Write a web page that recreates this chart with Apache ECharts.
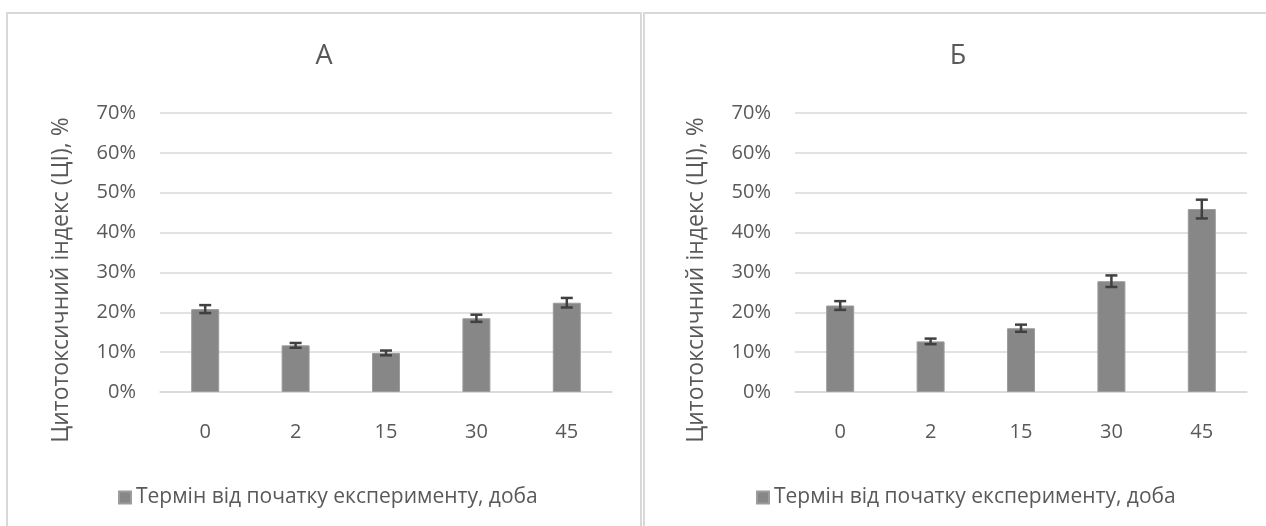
<!DOCTYPE html>
<html>
<head>
<meta charset="utf-8">
<script src="https://cdn.jsdelivr.net/npm/echarts@6/dist/echarts.min.js"></script>
<style>
  html, body { margin: 0; padding: 0; background: #ffffff; }
  #chart { width: 1266px; height: 526px; }
</style>
</head>
<body>
<div id="chart"></div>
<script>
// Days since the start of the experiment
var categories = ['0', '2', '15', '30', '45'];
var seriesName = 'Термін від початку експерименту, доба';
var axisTitle = 'Цитотоксичний індекс (ЦІ), %';
var panelTitles = ['А', 'Б'];

// Cytotoxic index, %, and its error for panel А
var valuesA = [20.8, 11.7, 9.8, 18.5, 22.4];
var errorsA = [1.0, 0.6, 0.6, 0.9, 1.2];

// Cytotoxic index, %, and its error for panel Б
var valuesB = [21.7, 12.7, 16.0, 27.8, 45.9];
var errorsB = [1.1, 0.7, 0.9, 1.45, 2.35];

// Y axis ticks, %
var yMin = 0, yMax = 70, yStep = 10;

var FONT = "'Open Sans', 'Noto Sans', sans-serif";
var TEXT = '#595959';
var GRID_LINE = '#d9d9d9';

function errorData(values, errors) {
  return values.map(function (v, i) { return [i, v, errors[i]]; });
}

// Vertical whisker with caps, placed through the axis scales
function renderError(params, api) {
  var x = api.value(0), y = api.value(1), e = api.value(2);
  var hi = api.coord([x, y + e]);
  var lo = api.coord([x, y - e]);
  var half = 6;
  var st = { stroke: '#404040', lineWidth: 2.5 };
  return {
    type: 'group',
    children: [
      { type: 'line', shape: { x1: hi[0], y1: hi[1], x2: lo[0], y2: lo[1] }, style: st },
      { type: 'line', shape: { x1: hi[0] - half, y1: hi[1], x2: hi[0] + half, y2: hi[1] }, style: st },
      { type: 'line', shape: { x1: lo[0] - half, y1: lo[1], x2: lo[0] + half, y2: lo[1] }, style: st }
    ]
  };
}

function xAxis(idx) {
  return {
    type: 'category', gridIndex: idx, data: categories,
    axisTick: { show: false },
    axisLine: { lineStyle: { color: GRID_LINE, width: 1.5 } },
    axisLabel: { color: TEXT, fontFamily: FONT, fontSize: 20, margin: 30 }
  };
}

function yAxis(idx) {
  return {
    type: 'value', gridIndex: idx, min: yMin, max: yMax, interval: yStep,
    axisLine: { show: false }, axisTick: { show: false },
    splitLine: { lineStyle: { color: GRID_LINE, width: 1.5 } },
    axisLabel: { color: TEXT, fontFamily: FONT, fontSize: 20, margin: 24, formatter: '{value}%' }
  };
}

function legend(left) {
  return {
    left: left, top: 487, padding: 0,
    data: [seriesName],
    icon: 'rect', itemWidth: 12, itemHeight: 12, itemGap: 6,
    selectedMode: false,
    textStyle: { color: TEXT, fontFamily: FONT, fontSize: 21, padding: [0, 0, 0, 0] }
  };
}

var chart = echarts.init(document.getElementById('chart'), null, { renderer: 'canvas' });

chart.setOption({
  animation: false,
  backgroundColor: '#ffffff',
  title: [
    { text: panelTitles[0], left: 324, top: 43, textAlign: 'center', padding: 0,
      textStyle: { color: TEXT, fontFamily: FONT, fontSize: 27, fontWeight: 'normal' } },
    { text: panelTitles[1], left: 958, top: 43, textAlign: 'center', padding: 0,
      textStyle: { color: TEXT, fontFamily: FONT, fontSize: 27, fontWeight: 'normal' } }
  ],
  legend: [legend(118), legend(756)],
  grid: [
    { left: 160, right: 654, top: 113, bottom: 134 },
    { left: 795, right: 19, top: 113, bottom: 134 }
  ],
  xAxis: [xAxis(0), xAxis(1)],
  yAxis: [yAxis(0), yAxis(1)],
  graphic: [
    { type: 'rect', shape: { x: 7, y: 13, width: 634, height: 560 }, silent: true,
      style: { fill: 'none', stroke: GRID_LINE, lineWidth: 2 } },
    { type: 'rect', shape: { x: 644, y: 13, width: 700, height: 560 }, silent: true,
      style: { fill: 'none', stroke: GRID_LINE, lineWidth: 2 } },
    { type: 'text', x: 61, y: 280, rotation: Math.PI / 2, silent: true,
      style: { text: axisTitle, fill: TEXT, font: '23px ' + FONT, align: 'center', verticalAlign: 'middle' } },
    { type: 'text', x: 696, y: 280, rotation: Math.PI / 2, silent: true,
      style: { text: axisTitle, fill: TEXT, font: '23px ' + FONT, align: 'center', verticalAlign: 'middle' } }
  ],
  series: [
    { name: seriesName, type: 'bar', xAxisIndex: 0, yAxisIndex: 0, data: valuesA, barWidth: 28,
      itemStyle: { color: '#878787', borderColor: '#9c9c9c', borderWidth: 1 } },
    { name: seriesName, type: 'bar', xAxisIndex: 1, yAxisIndex: 1, data: valuesB, barWidth: 28,
      itemStyle: { color: '#878787', borderColor: '#9c9c9c', borderWidth: 1 } },
    { name: 'errA', type: 'custom', xAxisIndex: 0, yAxisIndex: 0, z: 5,
      data: errorData(valuesA, errorsA), encode: { x: 0, y: 1 }, renderItem: renderError },
    { name: 'errB', type: 'custom', xAxisIndex: 1, yAxisIndex: 1, z: 5,
      data: errorData(valuesB, errorsB), encode: { x: 0, y: 1 }, renderItem: renderError }
  ]
});
</script>
</body>
</html>
